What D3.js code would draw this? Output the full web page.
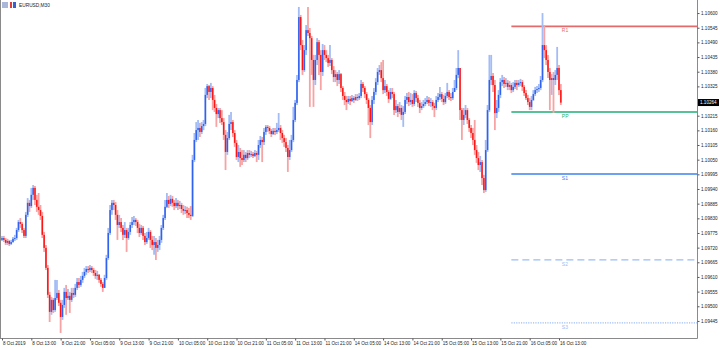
<!DOCTYPE html>
<html>
<head>
<meta charset="utf-8">
<script src="https://cdn.jsdelivr.net/npm/d3@7"></script>
<style>
  html, body { margin: 0; padding: 0; background: #fff; }
  svg { display: block; }
  text { font-family: "Liberation Sans", Arial, sans-serif; }
</style>
</head>
<body>
<div id="chart"></div>
<script>
// EURUSD M30 candles (open = previous close)
var firstOpen = 1.09749;

var closes = [
  1.09756,1.09749,1.09738,1.09745,1.09734,1.09741,1.09753,1.09756,1.09786,1.09816,
  1.09809,1.09786,1.09764,1.09843,1.09888,1.09876,1.09918,1.09944,1.09899,1.09873,
  1.09861,1.09839,1.09768,1.09719,1.09644,1.09543,1.09479,1.09524,1.09486,1.09531,
  1.09550,1.09513,1.09460,1.09505,1.09554,1.09531,1.09539,1.09524,1.09550,1.09543,
  1.09569,1.09591,1.09580,1.09599,1.09614,1.09629,1.09640,1.09636,1.09644,1.09636,
  1.09625,1.09614,1.09618,1.09599,1.09584,1.09569,1.09606,1.09681,1.09775,1.09861,
  1.09888,1.09880,1.09843,1.09805,1.09816,1.09794,1.09768,1.09786,1.09756,1.09779,
  1.09805,1.09816,1.09824,1.09816,1.09794,1.09775,1.09794,1.09764,1.09741,1.09756,
  1.09779,1.09749,1.09730,1.09741,1.09719,1.09730,1.09749,1.09794,1.09831,1.09873,
  1.09899,1.09884,1.09903,1.09888,1.09876,1.09888,1.09876,1.09880,1.09865,1.09858,
  1.09861,1.09850,1.09843,1.09839,1.10049,1.10124,1.10161,1.10169,1.10154,1.10176,
  1.10184,1.10293,1.10326,1.10304,1.10319,1.10274,1.10244,1.10221,1.10236,1.10206,
  1.10191,1.10143,1.10079,1.10131,1.10184,1.10191,1.10150,1.10113,1.10060,1.10079,
  1.10056,1.10049,1.10068,1.10056,1.10075,1.10068,1.10071,1.10064,1.10075,1.10068,
  1.10105,1.10124,1.10116,1.10154,1.10173,1.10169,1.10158,1.10146,1.10158,1.10154,
  1.10161,1.10169,1.10150,1.10131,1.10116,1.10094,1.10060,1.10086,1.10124,1.10199,
  1.10263,1.10349,1.10585,1.10480,1.10386,1.10461,1.10536,1.10525,1.10506,1.10424,
  1.10349,1.10424,1.10491,1.10443,1.10379,1.10461,1.10443,1.10431,1.10413,1.10424,
  1.10386,1.10360,1.10371,1.10349,1.10371,1.10319,1.10289,1.10274,1.10266,1.10278,
  1.10270,1.10281,1.10274,1.10285,1.10281,1.10289,1.10334,1.10319,1.10296,1.10274,
  1.10244,1.10191,1.10274,1.10304,1.10341,1.10379,1.10386,1.10356,1.10311,1.10326,
  1.10304,1.10278,1.10304,1.10296,1.10236,1.10251,1.10229,1.10244,1.10218,1.10229,
  1.10274,1.10285,1.10266,1.10274,1.10259,1.10300,1.10281,1.10263,1.10244,1.10251,
  1.10259,1.10266,1.10274,1.10263,1.10266,1.10251,1.10244,1.10274,1.10285,1.10296,
  1.10278,1.10266,1.10289,1.10304,1.10285,1.10281,1.10304,1.10319,1.10368,1.10394,
  1.10236,1.10199,1.10218,1.10236,1.10199,1.10169,1.10150,1.10124,1.10086,1.10056,
  1.10030,1.10041,1.09981,1.09936,1.10086,1.10236,1.10349,1.10364,1.10330,1.10225,
  1.10244,1.10293,1.10341,1.10349,1.10334,1.10338,1.10323,1.10330,1.10311,1.10323,
  1.10338,1.10330,1.10338,1.10341,1.10323,1.10300,1.10281,1.10266,1.10248,1.10274,
  1.10296,1.10311,1.10315,1.10319,1.10349,1.10480,1.10461,1.10424,1.10379,1.10349,
  1.10356,1.10349,1.10368,1.10394,1.10311,1.10264
];

var highs = [
  1.09764,1.09764,1.09756,1.09753,1.09749,1.09749,1.09760,1.09768,1.09794,1.09824,
  1.09831,1.09816,1.09794,1.09854,1.09906,1.09899,1.09944,1.09955,1.09951,1.09918,
  1.09925,1.09880,1.09854,1.09779,1.09730,1.09655,1.09554,1.09535,1.09531,1.09599,
  1.09599,1.09561,1.09524,1.09524,1.09569,1.09580,1.09565,1.09554,1.09569,1.09569,
  1.09584,1.09606,1.09606,1.09614,1.09629,1.09644,1.09651,1.09651,1.09655,1.09651,
  1.09644,1.09636,1.09633,1.09621,1.09606,1.09591,1.09618,1.09693,1.09794,1.09880,
  1.09899,1.09899,1.09891,1.09861,1.09843,1.09831,1.09805,1.09816,1.09794,1.09794,
  1.09816,1.09835,1.09839,1.09831,1.09824,1.09809,1.09805,1.09801,1.09775,1.09779,
  1.09794,1.09786,1.09764,1.09764,1.09756,1.09749,1.09764,1.09805,1.09843,1.09899,
  1.09925,1.09914,1.09918,1.09914,1.09899,1.09906,1.09899,1.09895,1.09888,1.09880,
  1.09876,1.09873,1.09869,1.09876,1.10068,1.10150,1.10191,1.10199,1.10188,1.10191,
  1.10199,1.10319,1.10334,1.10330,1.10338,1.10326,1.10293,1.10259,1.10244,1.10244,
  1.10236,1.10206,1.10161,1.10154,1.10218,1.10229,1.10199,1.10161,1.10124,1.10105,
  1.10094,1.10086,1.10086,1.10079,1.10086,1.10086,1.10083,1.10079,1.10086,1.10083,
  1.10124,1.10139,1.10135,1.10169,1.10180,1.10180,1.10176,1.10165,1.10169,1.10169,
  1.10188,1.10225,1.10180,1.10161,1.10143,1.10131,1.10105,1.10124,1.10143,1.10248,
  1.10274,1.10368,1.10623,1.10593,1.10499,1.10480,1.10555,1.10623,1.10544,1.10514,
  1.10443,1.10443,1.10506,1.10499,1.10461,1.10484,1.10480,1.10461,1.10443,1.10480,
  1.10431,1.10401,1.10386,1.10379,1.10386,1.10375,1.10326,1.10304,1.10289,1.10289,
  1.10289,1.10293,1.10289,1.10296,1.10296,1.10300,1.10349,1.10341,1.10326,1.10304,
  1.10281,1.10255,1.10289,1.10319,1.10356,1.10394,1.10405,1.10416,1.10424,1.10349,
  1.10334,1.10311,1.10319,1.10319,1.10304,1.10274,1.10259,1.10266,1.10255,1.10251,
  1.10289,1.10300,1.10304,1.10300,1.10296,1.10311,1.10308,1.10293,1.10274,1.10266,
  1.10274,1.10281,1.10289,1.10285,1.10281,1.10274,1.10263,1.10289,1.10300,1.10323,
  1.10304,1.10293,1.10300,1.10338,1.10311,1.10300,1.10319,1.10349,1.10394,1.10461,
  1.10394,1.10244,1.10244,1.10255,1.10244,1.10206,1.10180,1.10169,1.10199,1.10105,
  1.10079,1.10064,1.10049,1.09993,1.10124,1.10255,1.10443,1.10443,1.10375,1.10349,
  1.10274,1.10311,1.10356,1.10368,1.10360,1.10356,1.10349,1.10345,1.10338,1.10341,
  1.10349,1.10349,1.10349,1.10353,1.10349,1.10330,1.10311,1.10293,1.10281,1.10289,
  1.10311,1.10323,1.10326,1.10334,1.10364,1.10600,1.10555,1.10480,1.10443,1.10394,
  1.10371,1.10379,1.10386,1.10473,1.10405,1.10334
];

var lows = [
  1.09745,1.09741,1.09730,1.09730,1.09726,1.09730,1.09738,1.09745,1.09749,1.09779,
  1.09794,1.09775,1.09756,1.09756,1.09835,1.09854,1.09869,1.09899,1.09880,1.09854,
  1.09843,1.09824,1.09756,1.09704,1.09636,1.09531,1.09441,1.09468,1.09475,1.09479,
  1.09524,1.09501,1.09400,1.09449,1.09494,1.09468,1.09524,1.09475,1.09516,1.09531,
  1.09535,1.09561,1.09569,1.09573,1.09588,1.09606,1.09618,1.09625,1.09629,1.09625,
  1.09614,1.09603,1.09599,1.09588,1.09573,1.09554,1.09569,1.09599,1.09674,1.09768,
  1.09843,1.09861,1.09824,1.09749,1.09794,1.09779,1.09749,1.09756,1.09704,1.09749,
  1.09768,1.09794,1.09805,1.09801,1.09775,1.09760,1.09768,1.09749,1.09730,1.09734,
  1.09749,1.09719,1.09711,1.09693,1.09674,1.09704,1.09711,1.09738,1.09786,1.09824,
  1.09869,1.09869,1.09876,1.09873,1.09861,1.09869,1.09861,1.09865,1.09850,1.09843,
  1.09846,1.09831,1.09831,1.09824,1.09835,1.10041,1.10116,1.10124,1.10135,1.10146,
  1.10161,1.10176,1.10281,1.10274,1.10281,1.10236,1.10229,1.10173,1.10206,1.10188,
  1.10180,1.10124,1.10011,1.10068,1.10124,1.10161,1.10135,1.10098,1.10049,1.10041,
  1.10023,1.10030,1.10041,1.10041,1.10049,1.10056,1.10060,1.10056,1.10060,1.10041,
  1.10049,1.10094,1.10041,1.10105,1.10143,1.10154,1.10146,1.10135,1.10143,1.10143,
  1.10146,1.10154,1.10124,1.10113,1.10098,1.10079,1.10004,1.10049,1.10079,1.10116,
  1.10191,1.10255,1.10341,1.10461,1.10368,1.10379,1.10443,1.10514,1.10248,1.10368,
  1.10248,1.10330,1.10405,1.10368,1.10311,1.10364,1.10424,1.10416,1.10398,1.10401,
  1.10371,1.10341,1.10341,1.10326,1.10334,1.10304,1.10274,1.10255,1.10236,1.10259,
  1.10255,1.10266,1.10263,1.10270,1.10270,1.10274,1.10281,1.10304,1.10281,1.10259,
  1.10180,1.10131,1.10180,1.10259,1.10293,1.10330,1.10368,1.10341,1.10296,1.10300,
  1.10289,1.10263,1.10274,1.10281,1.10218,1.10225,1.10210,1.10221,1.10199,1.10173,
  1.10221,1.10259,1.10251,1.10255,1.10248,1.10251,1.10266,1.10248,1.10225,1.10236,
  1.10244,1.10251,1.10259,1.10251,1.10248,1.10236,1.10210,1.10236,1.10266,1.10274,
  1.10266,1.10255,1.10259,1.10281,1.10274,1.10270,1.10274,1.10304,1.10311,1.10356,
  1.10199,1.10124,1.10180,1.10206,1.10184,1.10154,1.10131,1.10105,1.10068,1.10038,
  1.10011,1.10004,1.09955,1.09925,1.09929,1.10079,1.10229,1.10330,1.10304,1.10161,
  1.10206,1.10229,1.10281,1.10326,1.10319,1.10323,1.10311,1.10311,1.10300,1.10304,
  1.10315,1.10311,1.10323,1.10326,1.10308,1.10289,1.10274,1.10255,1.10236,1.10236,
  1.10270,1.10289,1.10300,1.10304,1.10311,1.10341,1.10431,1.10405,1.10356,1.10236,
  1.10293,1.10225,1.10330,1.10349,1.10293,1.10255
];

// time axis labels, one every 16 bars (8 hours)
var timeLabels = ["8 Oct 2019","8 Oct 13:00","8 Oct 21:00","9 Oct 05:00","9 Oct 13:00",
  "9 Oct 21:00","10 Oct 05:00","10 Oct 13:00","10 Oct 21:00","11 Oct 05:00",
  "11 Oct 13:00","11 Oct 21:00","14 Oct 05:00","14 Oct 13:00","14 Oct 21:00",
  "15 Oct 05:00","15 Oct 13:00","15 Oct 21:00","16 Oct 05:00","16 Oct 13:00"];
var timeBars = [0,16,32,48,64,80,96,112,128,144,160,176,192,208,224,240,256,272,288,304];

var priceTicks = [1.09445,1.09500,1.09555,1.09610,1.09665,1.09720,1.09775,1.09830,1.09885,
  1.09940,1.09995,1.10050,1.10105,1.10160,1.10215,1.10325,1.10380,1.10435,1.10490,1.10545,1.10600];

// daily pivot levels
var pivotNames = ["R1","PP","S1","S2","S3"];
var pivotValues = [1.10550, 1.10229, 1.09996, 1.09674, 1.09438];
var pivotStartBar = 278;

var symbol = "EURUSD,M30";

var candles = closes.map(function(c, i) {
  return {i: i, o: i === 0 ? firstOpen : closes[i-1], h: highs[i], l: lows[i], c: c};
});

var W = 720, H = 348;
var plotRight = 697, plotBottom = 338;

var svg = d3.select("#chart").append("svg")
    .attr("width", W)
    .attr("height", H);

var x = d3.scaleLinear().domain([0, 304]).range([2, 559]);
var y = d3.scaleLinear().domain([1.09381, 1.10649]).range([plotBottom, 0]);

var upCol = "#2f62ee", dnCol = "#ff1414";
var upWick = "#a3bcf6", dnWick = "#f7a3a3";

// pivot lines
var pivStyle = [
  {col: "#e36b6b", w: 1.6, dash: null},
  {col: "#1fae74", w: 1.6, dash: null},
  {col: "#3d82ee", w: 1.4, dash: null},
  {col: "#9cbdf5", w: 1.3, dash: "7,4"},
  {col: "#9cbdf5", w: 1.3, dash: "1.2,1.2"}
];
var piv = svg.append("g");
pivotValues.forEach(function(v, k) {
  piv.append("line")
    .attr("x1", x(pivotStartBar)).attr("x2", plotRight)
    .attr("y1", y(v)).attr("y2", y(v))
    .style("stroke", pivStyle[k].col)
    .style("stroke-width", pivStyle[k].w)
    .style("stroke-dasharray", pivStyle[k].dash);
  piv.append("text")
    .attr("x", x(305) + 1).attr("y", y(v) + 6)
    .attr("font-size", 5)
    .attr("fill", pivStyle[k].col)
    .text(pivotNames[k]);
});

// candles
var g = svg.append("g");
g.selectAll("line.wick")
  .data(candles)
  .enter().append("line")
    .attr("class", "wick")
    .attr("x1", function(d) { return x(d.i); })
    .attr("x2", function(d) { return x(d.i); })
    .attr("y1", function(d) { return y(d.h); })
    .attr("y2", function(d) { return y(d.l); })
    .style("stroke", function(d) { return d.c >= d.o ? upWick : dnWick; })
    .style("stroke-width", 1.8);

g.selectAll("rect.body")
  .data(candles)
  .enter().append("rect")
    .attr("class", "body")
    .attr("x", function(d) { return x(d.i) - 0.75; })
    .attr("width", 1.5)
    .attr("y", function(d) { return y(Math.max(d.o, d.c)); })
    .attr("height", function(d) { return Math.max(1, Math.abs(y(d.o) - y(d.c))); })
    .style("fill", function(d) { return d.c >= d.o ? upCol : dnCol; });

// frame
svg.append("line").attr("x1", 0.5).attr("x2", 0.5).attr("y1", 0).attr("y2", plotBottom + 0.5)
  .style("stroke", "#8a8a8a");
svg.append("line").attr("x1", 0).attr("x2", plotRight + 0.5).attr("y1", plotBottom + 0.5).attr("y2", plotBottom + 0.5)
  .style("stroke", "#8a8a8a");

// price axis
var yAxis = svg.append("g")
  .attr("transform", "translate(" + (plotRight + 0.5) + ",0)")
  .call(d3.axisRight(y).tickValues(priceTicks).tickSize(2).tickSizeOuter(0).tickPadding(1.5)
    .tickFormat(d3.format(".5f")));
yAxis.select(".domain").attr("d", "M0,0V" + (plotBottom + 0.5)).style("stroke", "#8a8a8a");
yAxis.selectAll(".tick line").style("stroke", "#555");
yAxis.selectAll("text").attr("font-size", 4.6).attr("fill", "#222")
  .style("font-family", "Liberation Sans, Arial, sans-serif");

// current price tag
var last = closes[closes.length - 1];
svg.append("rect")
  .attr("x", plotRight + 1).attr("y", y(last) - 3.6)
  .attr("width", 21).attr("height", 7)
  .style("fill", "#000");
svg.append("text")
  .attr("x", plotRight + 3).attr("y", y(last) + 1.7)
  .attr("font-size", 4.6).attr("fill", "#fff")
  .text(d3.format(".5f")(last));

// time axis
var xAxis = svg.append("g")
  .attr("transform", "translate(0," + (plotBottom + 0.5) + ")")
  .call(d3.axisBottom(x).tickValues(timeBars).tickSize(2).tickSizeOuter(0)
    .tickFormat(function(d, k) { return timeLabels[k]; }));
xAxis.select(".domain").remove();
xAxis.selectAll(".tick line").style("stroke", "#555");
xAxis.selectAll("text")
  .attr("font-size", 4.6).attr("fill", "#222")
  .attr("text-anchor", "start").attr("x", 0.5).attr("y", 3).attr("dy", "0.71em")
  .style("font-family", "Liberation Sans, Arial, sans-serif");

// symbol caption with small icon
var cap = svg.append("g");
cap.append("rect").attr("x", 2).attr("y", 2).attr("width", 6).attr("height", 6).style("fill", "#aab7d9");
cap.append("rect").attr("x", 10).attr("y", 2).attr("width", 2).attr("height", 6).style("fill", "#e23b3b");
cap.append("rect").attr("x", 13).attr("y", 2).attr("width", 3).attr("height", 6).style("fill", "#3a5fd0");
cap.append("text").attr("x", 19).attr("y", 6.8).attr("font-size", 4.8).attr("fill", "#222").text(symbol);
</script>
</body>
</html>
